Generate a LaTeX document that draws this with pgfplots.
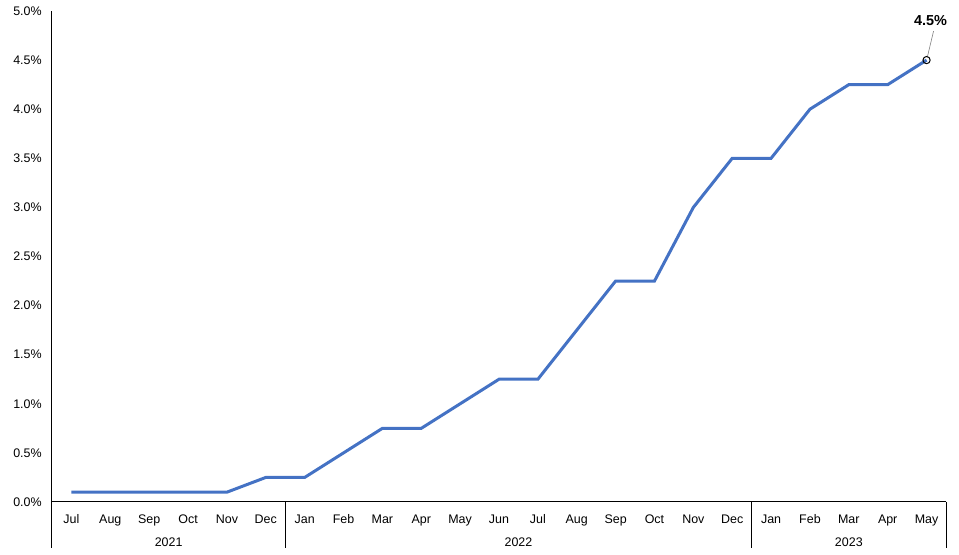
\documentclass[border=0pt]{standalone}
\usepackage{pgfplots}
\pgfplotsset{compat=1.18}
\usepackage{fontspec}
\setmainfont{Liberation Sans}
\definecolor{lineblue}{HTML}{4472C4}
\begin{document}
\fontsize{12.5}{15}\selectfont
\begin{tikzpicture}
\begin{axis}[
  scale only axis,
  width=894bp, height=491bp,
  xmin=-0.5, xmax=22.5,
  ymin=0, ymax=5,
  axis x line=bottom,
  axis y line=left,
  axis line style={-, line width=1bp, black},
  xtick={0,...,22},
  xticklabels={Jul,Aug,Sep,Oct,Nov,Dec,Jan,Feb,Mar,Apr,May,Jun,Jul,Aug,Sep,Oct,Nov,Dec,Jan,Feb,Mar,Apr,May},
  xticklabel style={font=\fontsize{12.5}{15}\selectfont, anchor=base, inner sep=0, yshift=-22bp},
  ytick={0,0.5,...,5},
  yticklabels={0.0\%,0.5\%,1.0\%,1.5\%,2.0\%,2.5\%,3.0\%,3.5\%,4.0\%,4.5\%,5.0\%},
  yticklabel style={font=\fontsize{12.5}{15}\selectfont, xshift=-6bp},
  major tick length=0,
  clip=false,
]
\addplot[lineblue, line width=3bp, mark=none] coordinates {
(0,0.1) (1,0.1) (2,0.1) (3,0.1) (4,0.1) (5,0.25)
(6,0.25) (7,0.5) (8,0.75) (9,0.75) (10,1.0) (11,1.25) (12,1.25)
(13,1.75) (14,2.25) (15,2.25) (16,3.0) (17,3.5)
(18,3.5) (19,4.0) (20,4.25) (21,4.25) (22,4.5)
};
\addplot[only marks, mark=o, mark size=3.6bp, mark options={black, fill=white, line width=1bp}] coordinates {(22,4.5)};
% separators
\draw[black, line width=1bp] (axis cs:-0.5,0) -- ([yshift=-46bp]axis cs:-0.5,0);
\draw[black, line width=1bp] (axis cs:5.5,0) -- ([yshift=-46bp]axis cs:5.5,0);
\draw[black, line width=1bp] (axis cs:17.5,0) -- ([yshift=-46bp]axis cs:17.5,0);
\draw[black, line width=1bp] (axis cs:22.5,0) -- ([yshift=-46bp]axis cs:22.5,0);
% year labels
\node[anchor=base, inner sep=0] at ([yshift=-45bp]axis cs:2.5,0) {2021};
\node[anchor=base, inner sep=0] at ([yshift=-45bp]axis cs:11.5,0) {2022};
\node[anchor=base, inner sep=0] at ([yshift=-45bp]axis cs:20,0) {2023};
% callout
\draw[gray, line width=0.6bp] ([xshift=1bp,yshift=4bp]axis cs:22,4.5) -- ([xshift=7bp,yshift=29bp]axis cs:22,4.5);
\node[inner sep=0, font=\fontsize{14.5}{17}\selectfont\bfseries] at ([xshift=4bp,yshift=40bp]axis cs:22,4.5) {4.5\%};
\end{axis}
\pgfresetboundingbox
\path (current axis.south west) ++(-52bp,-53bp) coordinate (bl);
\path (current axis.north east) ++(13bp,11bp) coordinate (tr);
\useasboundingbox (bl) rectangle (tr);
\end{tikzpicture}
\end{document}
